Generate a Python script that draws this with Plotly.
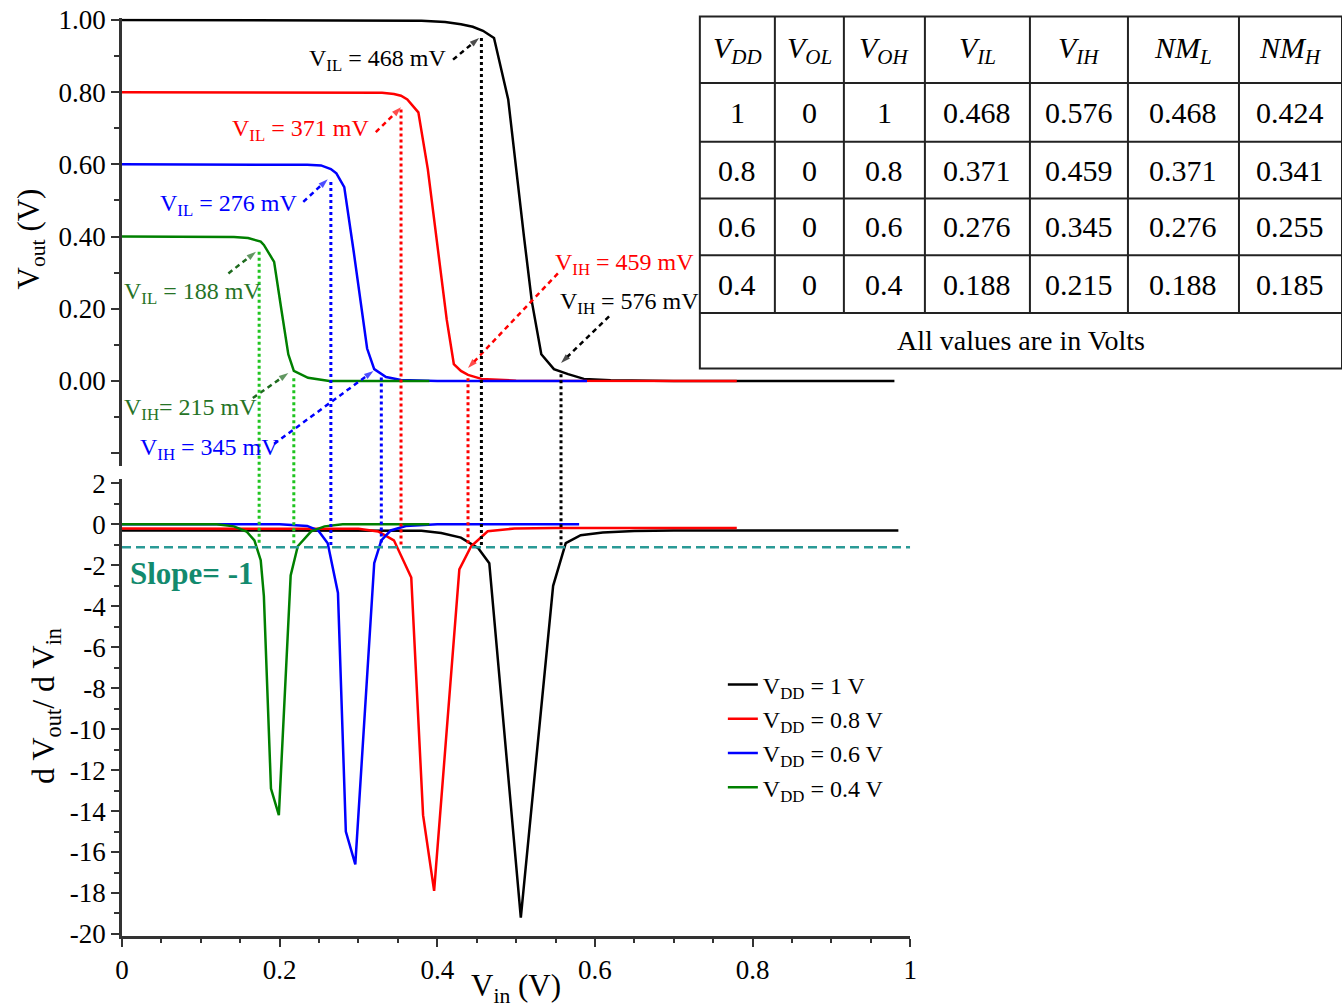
import plotly.graph_objects as go

# ---------------- data: voltage transfer characteristics ----------------
vin_vdd10 = [0, 0.30, 0.38, 0.41, 0.43, 0.445, 0.458, 0.472, 0.49, 0.51, 0.52, 0.532, 0.548, 0.566, 0.586, 0.62, 0.70, 0.98]
vout_vdd10 = [1.0, 1.0, 0.998, 0.994, 0.988, 0.981, 0.970, 0.950, 0.78, 0.40, 0.22, 0.074, 0.033, 0.019, 0.006, 0.002, 0.0, 0.0]

vin_vdd08 = [0, 0.28, 0.33, 0.345, 0.354, 0.362, 0.376, 0.388, 0.401, 0.412, 0.421, 0.430, 0.439, 0.456, 0.50, 0.78]
vout_vdd08 = [0.8, 0.8, 0.798, 0.795, 0.790, 0.780, 0.744, 0.587, 0.358, 0.17, 0.047, 0.028, 0.017, 0.006, 0.001, 0.0]

vin_vdd06 = [0, 0.20, 0.235, 0.2525, 0.265, 0.272, 0.282, 0.294, 0.303, 0.311, 0.320, 0.335, 0.354, 0.40, 0.59]
vout_vdd06 = [0.6, 0.6, 0.599, 0.597, 0.587, 0.575, 0.537, 0.358, 0.21, 0.09, 0.033, 0.011, 0.003, 0.0, 0.0]

vin_vdd04 = [0, 0.12, 0.142, 0.16, 0.176, 0.180, 0.193, 0.202, 0.211, 0.218, 0.236, 0.263, 0.39]
vout_vdd04 = [0.4, 0.4, 0.399, 0.396, 0.386, 0.377, 0.330, 0.201, 0.074, 0.028, 0.009, 0.0, 0.0]

# ---------------- data: gain dVout/dVin ----------------
gvin_vdd10 = [0, 0.38, 0.405, 0.43, 0.452, 0.466, 0.506, 0.547, 0.563, 0.582, 0.61, 0.65, 0.70, 0.985]
gain_vdd10 = [-0.30, -0.31, -0.42, -0.65, -1.17, -1.9, -19.2, -3.0, -0.92, -0.53, -0.40, -0.33, -0.30, -0.30]

gvin_vdd08 = [0, 0.30, 0.325, 0.345, 0.367, 0.382, 0.396, 0.428, 0.443, 0.464, 0.498, 0.55, 0.78]
gain_vdd08 = [-0.20, -0.22, -0.35, -0.78, -2.6, -14.2, -17.9, -2.2, -1.07, -0.34, -0.2, -0.18, -0.18]

gvin_vdd06 = [0, 0.20, 0.235, 0.249, 0.261, 0.274, 0.284, 0.296, 0.320, 0.329, 0.341, 0.36, 0.40, 0.58]
gain_vdd06 = [0, 0, -0.08, -0.3, -0.92, -3.35, -15.0, -16.6, -1.9, -0.78, -0.3, -0.08, 0.0, 0.0]

gvin_vdd04 = [0, 0.12, 0.142, 0.158, 0.168, 0.176, 0.180, 0.189, 0.199, 0.214, 0.223, 0.240, 0.257, 0.28, 0.39]
gain_vdd04 = [0, 0, -0.1, -0.35, -0.78, -1.75, -3.5, -12.9, -14.2, -2.5, -1.07, -0.34, -0.1, 0, 0]

series_names = ["V<sub>DD</sub> = 1 V", "V<sub>DD</sub> = 0.8 V", "V<sub>DD</sub> = 0.6 V", "V<sub>DD</sub> = 0.4 V"]
series_colors = ["#000000", "#ff0000", "#0000ff", "#008000"]

# ---------------- VIL / VIH guide lines ----------------
mark_vin = [0.456, 0.557, 0.354, 0.439, 0.265, 0.329, 0.174, 0.218]
mark_vout = [0.950, 0.019, 0.752, 0.008, 0.551, 0.010, 0.358, 0.008]
mark_colors = ["#000000", "#000000", "#ff0000", "#ff0000", "#0000ff", "#0000ff", "#1fc41f", "#1fc41f"]
mark_gain_end = -1.05
slope_level = -1.12

# ---------------- labels and arrows ----------------
label_texts = ["V<sub>IL</sub> = 468 mV", "V<sub>IL</sub> = 371 mV", "V<sub>IL</sub> = 276 mV",
               "V<sub>IL</sub> = 188 mV", "V<sub>IH</sub>= 215 mV", "V<sub>IH</sub> = 345 mV",
               "V<sub>IH</sub> = 459 mV", "V<sub>IH</sub> = 576 mV"]
label_x = [0.4137, 0.316, 0.2246, 0.0, 0.0, 0.0203, 0.547, 0.553]
label_y = [0.890, 0.694, 0.4876, 0.245, -0.077, -0.187, 0.325, 0.215]
label_anchor = ["right", "right", "right", "left", "left", "left", "left", "left"]
label_colors = ["#000000", "#ff0000", "#0000ff", "#267326", "#267326", "#0000ff", "#ff0000", "#000000"]

arrow_x0 = [0.420, 0.322, 0.230, 0.135, 0.166, 0.193, 0.553, 0.618]
arrow_y0 = [0.890, 0.689, 0.496, 0.298, -0.047, -0.174, 0.298, 0.179]
arrow_x1 = [0.453, 0.354, 0.261, 0.170, 0.211, 0.319, 0.439, 0.557]
arrow_y1 = [0.950, 0.758, 0.559, 0.358, 0.022, 0.028, 0.036, 0.050]
arrow_colors = ["#000000", "#ff0000", "#0000ff", "#1e6b1e", "#1e6b1e", "#0000ff", "#ff0000", "#000000"]

# ---------------- table ----------------
tbl_header = ["<i>V<sub>DD</sub></i>", "<i>V<sub>OL</sub></i>", "<i>V<sub>OH</sub></i>", "<i>V<sub>IL</sub></i>",
              "<i>V<sub>IH</sub></i>", "<i>NM<sub>L</sub></i>", "<i>NM<sub>H</sub></i>"]
tbl_vdd = ["1", "0.8", "0.6", "0.4"]
tbl_vol = ["0", "0", "0", "0"]
tbl_voh = ["1", "0.8", "0.6", "0.4"]
tbl_vil = ["0.468", "0.371", "0.276", "0.188"]
tbl_vih = ["0.576", "0.459", "0.345", "0.215"]
tbl_nml = ["0.468", "0.371", "0.276", "0.188"]
tbl_nmh = ["0.424", "0.341", "0.255", "0.185"]
tbl_footer = "All values are in Volts"

# ---------------- layout geometry (reference pixel frame 1342 x 1008) ----------------
REF_W, REF_H = 1342, 1008
W, H = 1350, 1008
SX = W / REF_W
M_L, M_R, M_T, M_B = round(121 * SX), 0, 8, 72
PW, PH = W - M_L - M_R, H - M_T - M_B
X_DOM = [0, 788 * SX / PW]
TOP_RANGE = [-0.234, 1.004]
TOP_DOM = [(936 - 463) / PH, (936 - 13.5) / PH]
BOT_RANGE = [-20.1, 2.19]
BOT_DOM = [0, (936 - 477) / PH]
FONT = "Liberation Serif"
AX_COL = "#333333"


def px_x(px):
    return (px * SX - M_L) / PW


def px_y(py):
    return (H - M_B - py) / PH


def top_to_paper(v):
    return TOP_DOM[0] + (v - TOP_RANGE[0]) / (TOP_RANGE[1] - TOP_RANGE[0]) * (TOP_DOM[1] - TOP_DOM[0])


def bot_to_paper(v):
    return BOT_DOM[0] + (v - BOT_RANGE[0]) / (BOT_RANGE[1] - BOT_RANGE[0]) * (BOT_DOM[1] - BOT_DOM[0])


fig = go.Figure()

vtc = [(vin_vdd10, vout_vdd10), (vin_vdd08, vout_vdd08), (vin_vdd06, vout_vdd06), (vin_vdd04, vout_vdd04)]
gains = [(gvin_vdd10, gain_vdd10), (gvin_vdd08, gain_vdd08), (gvin_vdd06, gain_vdd06), (gvin_vdd04, gain_vdd04)]

for (xv, yv), name, col in zip(vtc, series_names, series_colors):
    fig.add_trace(go.Scatter(x=xv, y=yv, mode="lines", line=dict(color=col, width=2.5),
                             xaxis="x", yaxis="y", showlegend=False, name=name))

for (xv, yv), name, col in zip(gains, series_names, series_colors):
    fig.add_trace(go.Scatter(x=xv, y=yv, mode="lines", line=dict(color=col, width=2.5),
                             xaxis="x2", yaxis="y2", showlegend=True, name=name))

# slope = -1 reference line
fig.add_trace(go.Scatter(x=[0, 1], y=[slope_level, slope_level], mode="lines",
                         line=dict(color="#2a9a96", width=2.5, dash="9px,5px"),
                         xaxis="x2", yaxis="y2", showlegend=False, hoverinfo="skip"))

# dashed arrows
for x0, y0, x1, y1, col in zip(arrow_x0, arrow_y0, arrow_x1, arrow_y1, arrow_colors):
    fig.add_trace(go.Scatter(x=[x0, x1], y=[y0, y1], mode="lines+markers",
                             line=dict(color=col, width=2.5, dash="5px,4px"),
                             marker=dict(symbol=["circle", "arrow"], size=[0, 10], color=col,
                                         angleref="previous", line=dict(width=0)),
                             xaxis="x", yaxis="y", showlegend=False, hoverinfo="skip"))

shapes = []
for xv, yv, col in zip(mark_vin, mark_vout, mark_colors):
    shapes.append(dict(type="line", xref="x", yref="paper", x0=xv, x1=xv,
                       y0=top_to_paper(yv), y1=bot_to_paper(mark_gain_end),
                       line=dict(color=col, width=3, dash="dot")))

annotations = []
for t, x, y, a, c in zip(label_texts, label_x, label_y, label_anchor, label_colors):
    annotations.append(dict(text=t, x=x, y=y, xref="x", yref="y", xanchor=a, yanchor="middle",
                            showarrow=False, font=dict(family=FONT, size=24, color=c)))

annotations.append(dict(text="<b>Slope= -1</b>", x=0.0076, y=-2.38, xref="x2", yref="y2",
                        xanchor="left", yanchor="middle", showarrow=False,
                        font=dict(family=FONT, size=31, color="#138a6e")))

# axis titles
annotations.append(dict(text="V<sub>out</sub> (V)", x=px_x(30), y=px_y(235), xref="paper", yref="paper",
                        textangle=-90, showarrow=False, xanchor="center", yanchor="middle",
                        font=dict(family=FONT, size=31, color="black")))
annotations.append(dict(text="d V<sub>out</sub>/ d V<sub>in</sub>", x=px_x(45), y=px_y(705), xref="paper",
                        yref="paper", textangle=-90, showarrow=False, xanchor="center", yanchor="middle",
                        font=dict(family=FONT, size=32, color="black")))
annotations.append(dict(text="V<sub>in</sub> (V)", x=px_x(515), y=px_y(988), xref="paper", yref="paper",
                        showarrow=False, xanchor="center", yanchor="middle",
                        font=dict(family=FONT, size=31, color="black")))

# ---------------- table drawn with shapes + annotations ----------------
TBL_LEFT = 699
TBL_TOP = 11.5
COL_W = [75, 69, 81, 105, 98, 111, 103]
ROW_H = [67, 59, 57, 57, 58, 56]
col_edges = [TBL_LEFT]
for w in COL_W:
    col_edges.append(col_edges[-1] + w)
row_edges = [TBL_TOP]
for h in ROW_H:
    row_edges.append(row_edges[-1] + h)

tline = dict(color="#222222", width=2)
shapes.append(dict(type="rect", xref="paper", yref="paper", x0=px_x(col_edges[0]), x1=px_x(col_edges[-1]),
                   y0=px_y(row_edges[-1]), y1=px_y(row_edges[0]), line=tline, fillcolor="rgba(0,0,0,0)"))
for ce in col_edges[1:-1]:
    shapes.append(dict(type="line", xref="paper", yref="paper", x0=px_x(ce), x1=px_x(ce),
                       y0=px_y(row_edges[-2]), y1=px_y(row_edges[0]), line=tline))
for re_ in row_edges[1:-1]:
    shapes.append(dict(type="line", xref="paper", yref="paper", x0=px_x(col_edges[0]), x1=px_x(col_edges[-1]),
                       y0=px_y(re_), y1=px_y(re_), line=tline))

columns = [tbl_vdd, tbl_vol, tbl_voh, tbl_vil, tbl_vih, tbl_nml, tbl_nmh]
for ci, head in enumerate(tbl_header):
    cx = (col_edges[ci] + col_edges[ci + 1]) / 2
    cy = (row_edges[0] + row_edges[1]) / 2
    annotations.append(dict(text=head, x=px_x(cx), y=px_y(cy), xref="paper", yref="paper",
                            showarrow=False, xanchor="center", yanchor="middle",
                            font=dict(family=FONT, size=30, color="black")))
    for ri, val in enumerate(columns[ci]):
        cy = (row_edges[ri + 1] + row_edges[ri + 2]) / 2
        annotations.append(dict(text=val, x=px_x(cx), y=px_y(cy), xref="paper", yref="paper",
                                showarrow=False, xanchor="center", yanchor="middle",
                                font=dict(family=FONT, size=30, color="black")))
annotations.append(dict(text=tbl_footer, x=px_x((col_edges[0] + col_edges[-1]) / 2),
                        y=px_y((row_edges[-2] + row_edges[-1]) / 2), xref="paper", yref="paper",
                        showarrow=False, xanchor="center", yanchor="middle",
                        font=dict(family=FONT, size=28, color="black")))

tickfont = dict(family=FONT, size=27, color="black")
top_major = [-0.2, 0, 0.2, 0.4, 0.6, 0.8, 1.0]
top_minor = [-0.1, 0.1, 0.3, 0.5, 0.7, 0.9]
bot_major = [2, 0, -2, -4, -6, -8, -10, -12, -14, -16, -18, -20]
x_major = [0, 0.2, 0.4, 0.6, 0.8, 1.0]

fig.update_layout(
    width=W, height=H, autosize=False,
    margin=dict(l=M_L, r=M_R, t=M_T, b=M_B),
    paper_bgcolor="white", plot_bgcolor="white",
    font=dict(family=FONT, color="black"),
    xaxis=dict(domain=X_DOM, range=[0, 1], anchor="y", visible=False),
    yaxis=dict(domain=TOP_DOM, range=TOP_RANGE, anchor="x", showgrid=False, zeroline=False,
               showline=True, linecolor=AX_COL, linewidth=2.5,
               tickmode="array", tickvals=top_major,
               ticktext=["" if v < 0 else f"{v:.2f}" for v in top_major],
               ticks="outside", ticklen=8, tickwidth=2, tickcolor=AX_COL, tickfont=tickfont,
               minor=dict(tickvals=top_minor, ticks="outside", ticklen=5, tickwidth=2, tickcolor=AX_COL)),
    xaxis2=dict(domain=X_DOM, range=[0, 1], anchor="y2", showgrid=False, zeroline=False,
                showline=True, linecolor=AX_COL, linewidth=2.5,
                tickmode="array", tickvals=x_major, ticktext=[f"{v:g}" for v in x_major],
                ticks="outside", ticklen=8, tickwidth=2, tickcolor=AX_COL, tickfont=tickfont,
                minor=dict(dtick=0.05, tick0=0, ticks="outside", ticklen=4, tickwidth=2, tickcolor=AX_COL)),
    yaxis2=dict(domain=BOT_DOM, range=BOT_RANGE, anchor="x2", showgrid=False, zeroline=False,
                showline=True, linecolor=AX_COL, linewidth=2.5,
                tickmode="array", tickvals=bot_major, ticktext=[str(v) for v in bot_major],
                ticks="outside", ticklen=8, tickwidth=2, tickcolor=AX_COL, tickfont=tickfont,
                minor=dict(dtick=1, tick0=0, ticks="outside", ticklen=5, tickwidth=2, tickcolor=AX_COL)),
    legend=dict(x=px_x(722), y=px_y(661), xanchor="left", yanchor="top",
                bgcolor="rgba(0,0,0,0)", borderwidth=0,
                font=dict(family=FONT, size=24, color="black"), tracegroupgap=0),
    shapes=shapes,
    annotations=annotations,
)

page_fix = (
    "var de=document.documentElement, b=document.body;"
    "[de,b].forEach(function(e){e.style.margin='0';e.style.padding='0';e.style.overflow='hidden';});"
    "b.style.lineHeight='0';"
    "document.querySelectorAll('.svg-container').forEach(function(e){e.style.display='block';});"
)
fig.write_html("out.html", config={"responsive": False, "displayModeBar": False}, post_script=page_fix)
